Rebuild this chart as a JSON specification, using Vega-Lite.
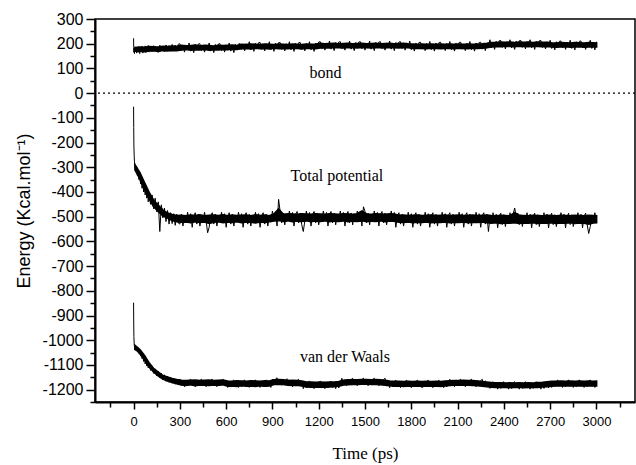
{
  "$schema": "https://vega.github.io/schema/vega-lite/v6.json",
  "width": 540,
  "height": 383,
  "autosize": {"type": "none"},
  "padding": {"left": 95, "top": 19, "right": 1, "bottom": 63},
  "background": "white",
  "config": {
    "locale": {"number": {"decimal": ".", "thousands": "", "grouping": [3], "currency": ["$", ""], "minus": "-"}},
    "view": {"stroke": "black", "strokeWidth": 1.5},
    "axis": {"grid": false, "domainColor": "black", "domainWidth": 2, "tickColor": "black", "tickWidth": 1.5, "labelColor": "black", "titleColor": "black", "titleFontWeight": "normal"}
  },
  "resolve": {"axis": {"x": "independent", "y": "independent"}},
  "datasets": {
    "band": [
      {"t":10,"b1":170,"b2":184,"p1":-310,"p2":-292,"v1":-1034,"v2":-1022},
      {"t":40,"b1":171,"b2":186,"p1":-345,"p2":-322,"v1":-1052,"v2":-1038},
      {"t":70,"b1":169,"b2":185,"p1":-388,"p2":-362,"v1":-1078,"v2":-1062},
      {"t":100,"b1":171,"b2":188,"p1":-425,"p2":-402,"v1":-1106,"v2":-1092},
      {"t":130,"b1":172,"b2":187,"p1":-458,"p2":-435,"v1":-1128,"v2":-1116},
      {"t":160,"b1":170,"b2":186,"p1":-478,"p2":-455,"v1":-1144,"v2":-1130},
      {"t":190,"b1":173,"b2":189,"p1":-496,"p2":-474,"v1":-1156,"v2":-1144},
      {"t":220,"b1":172,"b2":188,"p1":-505,"p2":-486,"v1":-1164,"v2":-1150},
      {"t":250,"b1":174,"b2":190,"p1":-515,"p2":-492,"v1":-1170,"v2":-1156},
      {"t":280,"b1":173,"b2":189,"p1":-520,"p2":-496,"v1":-1175,"v2":-1160},
      {"t":310,"b1":176,"b2":193,"p1":-522,"p2":-495,"v1":-1180,"v2":-1163},
      {"t":340,"b1":178,"b2":191,"p1":-521,"p2":-497,"v1":-1182,"v2":-1164},
      {"t":370,"b1":175,"b2":192,"p1":-524,"p2":-494,"v1":-1179,"v2":-1163},
      {"t":400,"b1":177,"b2":194,"p1":-520,"p2":-496,"v1":-1183,"v2":-1162},
      {"t":430,"b1":176,"b2":191,"p1":-523,"p2":-493,"v1":-1180,"v2":-1164},
      {"t":460,"b1":178,"b2":193,"p1":-521,"p2":-497,"v1":-1181,"v2":-1163},
      {"t":490,"b1":175,"b2":192,"p1":-526,"p2":-495,"v1":-1182,"v2":-1162},
      {"t":520,"b1":177,"b2":190,"p1":-522,"p2":-494,"v1":-1180,"v2":-1164},
      {"t":550,"b1":176,"b2":193,"p1":-520,"p2":-496,"v1":-1181,"v2":-1163},
      {"t":580,"b1":178,"b2":192,"p1":-524,"p2":-493,"v1":-1179,"v2":-1162},
      {"t":610,"b1":177,"b2":193,"p1":-521,"p2":-497,"v1":-1185,"v2":-1166},
      {"t":640,"b1":179,"b2":194,"p1":-523,"p2":-494,"v1":-1184,"v2":-1167},
      {"t":670,"b1":178,"b2":192,"p1":-520,"p2":-496,"v1":-1186,"v2":-1165},
      {"t":700,"b1":181,"b2":197,"p1":-524,"p2":-495,"v1":-1183,"v2":-1166},
      {"t":730,"b1":182,"b2":196,"p1":-521,"p2":-494,"v1":-1185,"v2":-1167},
      {"t":760,"b1":180,"b2":198,"p1":-522,"p2":-497,"v1":-1184,"v2":-1165},
      {"t":790,"b1":183,"b2":197,"p1":-525,"p2":-493,"v1":-1186,"v2":-1166},
      {"t":820,"b1":181,"b2":196,"p1":-521,"p2":-496,"v1":-1183,"v2":-1167},
      {"t":850,"b1":182,"b2":198,"p1":-523,"p2":-494,"v1":-1185,"v2":-1165},
      {"t":880,"b1":180,"b2":197,"p1":-520,"p2":-497,"v1":-1184,"v2":-1166},
      {"t":910,"b1":183,"b2":196,"p1":-517,"p2":-490,"v1":-1178,"v2":-1161},
      {"t":940,"b1":181,"b2":198,"p1":-515,"p2":-470,"v1":-1177,"v2":-1160},
      {"t":970,"b1":182,"b2":197,"p1":-518,"p2":-491,"v1":-1178,"v2":-1161},
      {"t":1000,"b1":181,"b2":196,"p1":-516,"p2":-489,"v1":-1181,"v2":-1164},
      {"t":1030,"b1":183,"b2":198,"p1":-519,"p2":-490,"v1":-1182,"v2":-1163},
      {"t":1060,"b1":182,"b2":197,"p1":-517,"p2":-491,"v1":-1181,"v2":-1164},
      {"t":1090,"b1":180,"b2":196,"p1":-518,"p2":-489,"v1":-1184,"v2":-1166},
      {"t":1120,"b1":183,"b2":198,"p1":-516,"p2":-490,"v1":-1188,"v2":-1170},
      {"t":1150,"b1":182,"b2":197,"p1":-519,"p2":-491,"v1":-1189,"v2":-1170},
      {"t":1180,"b1":181,"b2":198,"p1":-517,"p2":-489,"v1":-1188,"v2":-1171},
      {"t":1210,"b1":184,"b2":201,"p1":-518,"p2":-490,"v1":-1189,"v2":-1170},
      {"t":1240,"b1":185,"b2":199,"p1":-516,"p2":-491,"v1":-1189,"v2":-1171},
      {"t":1270,"b1":184,"b2":200,"p1":-519,"p2":-489,"v1":-1188,"v2":-1170},
      {"t":1300,"b1":186,"b2":201,"p1":-517,"p2":-490,"v1":-1187,"v2":-1170},
      {"t":1330,"b1":185,"b2":199,"p1":-518,"p2":-491,"v1":-1185,"v2":-1168},
      {"t":1360,"b1":184,"b2":200,"p1":-516,"p2":-489,"v1":-1180,"v2":-1163},
      {"t":1390,"b1":186,"b2":201,"p1":-519,"p2":-490,"v1":-1179,"v2":-1161},
      {"t":1420,"b1":185,"b2":199,"p1":-517,"p2":-491,"v1":-1178,"v2":-1161},
      {"t":1450,"b1":184,"b2":200,"p1":-518,"p2":-489,"v1":-1178,"v2":-1161},
      {"t":1480,"b1":186,"b2":201,"p1":-516,"p2":-478,"v1":-1177,"v2":-1160},
      {"t":1510,"b1":185,"b2":199,"p1":-519,"p2":-490,"v1":-1177,"v2":-1160},
      {"t":1540,"b1":184,"b2":200,"p1":-517,"p2":-491,"v1":-1178,"v2":-1161},
      {"t":1570,"b1":186,"b2":201,"p1":-518,"p2":-489,"v1":-1178,"v2":-1160},
      {"t":1600,"b1":185,"b2":199,"p1":-516,"p2":-490,"v1":-1179,"v2":-1161},
      {"t":1630,"b1":184,"b2":200,"p1":-519,"p2":-491,"v1":-1181,"v2":-1163},
      {"t":1660,"b1":186,"b2":201,"p1":-517,"p2":-489,"v1":-1183,"v2":-1166},
      {"t":1690,"b1":185,"b2":199,"p1":-518,"p2":-490,"v1":-1185,"v2":-1167},
      {"t":1720,"b1":184,"b2":200,"p1":-522,"p2":-495,"v1":-1184,"v2":-1167},
      {"t":1750,"b1":186,"b2":201,"p1":-523,"p2":-494,"v1":-1186,"v2":-1168},
      {"t":1780,"b1":185,"b2":199,"p1":-521,"p2":-496,"v1":-1184,"v2":-1167},
      {"t":1810,"b1":182,"b2":198,"p1":-524,"p2":-495,"v1":-1185,"v2":-1168},
      {"t":1840,"b1":183,"b2":197,"p1":-522,"p2":-494,"v1":-1184,"v2":-1167},
      {"t":1870,"b1":182,"b2":198,"p1":-523,"p2":-496,"v1":-1186,"v2":-1168},
      {"t":1900,"b1":181,"b2":197,"p1":-521,"p2":-495,"v1":-1184,"v2":-1167},
      {"t":1930,"b1":183,"b2":198,"p1":-524,"p2":-494,"v1":-1185,"v2":-1168},
      {"t":1960,"b1":182,"b2":197,"p1":-522,"p2":-496,"v1":-1184,"v2":-1167},
      {"t":1990,"b1":181,"b2":198,"p1":-523,"p2":-495,"v1":-1186,"v2":-1168},
      {"t":2020,"b1":183,"b2":197,"p1":-521,"p2":-494,"v1":-1184,"v2":-1166},
      {"t":2050,"b1":182,"b2":198,"p1":-524,"p2":-496,"v1":-1182,"v2":-1165},
      {"t":2080,"b1":181,"b2":197,"p1":-522,"p2":-495,"v1":-1181,"v2":-1164},
      {"t":2110,"b1":183,"b2":198,"p1":-523,"p2":-494,"v1":-1181,"v2":-1164},
      {"t":2140,"b1":182,"b2":197,"p1":-521,"p2":-496,"v1":-1181,"v2":-1163},
      {"t":2170,"b1":181,"b2":198,"p1":-524,"p2":-495,"v1":-1181,"v2":-1164},
      {"t":2200,"b1":183,"b2":197,"p1":-522,"p2":-494,"v1":-1182,"v2":-1164},
      {"t":2230,"b1":182,"b2":198,"p1":-523,"p2":-496,"v1":-1183,"v2":-1166},
      {"t":2260,"b1":183,"b2":199,"p1":-521,"p2":-495,"v1":-1185,"v2":-1168},
      {"t":2290,"b1":185,"b2":201,"p1":-524,"p2":-494,"v1":-1187,"v2":-1170},
      {"t":2320,"b1":188,"b2":204,"p1":-526,"p2":-496,"v1":-1189,"v2":-1172},
      {"t":2350,"b1":190,"b2":204,"p1":-524,"p2":-497,"v1":-1190,"v2":-1173},
      {"t":2380,"b1":189,"b2":206,"p1":-527,"p2":-495,"v1":-1190,"v2":-1173},
      {"t":2410,"b1":191,"b2":205,"p1":-525,"p2":-496,"v1":-1189,"v2":-1174},
      {"t":2440,"b1":190,"b2":206,"p1":-526,"p2":-497,"v1":-1191,"v2":-1173},
      {"t":2470,"b1":189,"b2":204,"p1":-524,"p2":-485,"v1":-1190,"v2":-1174},
      {"t":2500,"b1":191,"b2":206,"p1":-527,"p2":-495,"v1":-1189,"v2":-1173},
      {"t":2530,"b1":190,"b2":205,"p1":-525,"p2":-496,"v1":-1191,"v2":-1174},
      {"t":2560,"b1":189,"b2":206,"p1":-526,"p2":-497,"v1":-1190,"v2":-1173},
      {"t":2590,"b1":191,"b2":204,"p1":-524,"p2":-495,"v1":-1189,"v2":-1174},
      {"t":2620,"b1":190,"b2":206,"p1":-527,"p2":-496,"v1":-1190,"v2":-1172},
      {"t":2650,"b1":189,"b2":205,"p1":-525,"p2":-497,"v1":-1188,"v2":-1171},
      {"t":2680,"b1":190,"b2":205,"p1":-526,"p2":-495,"v1":-1187,"v2":-1169},
      {"t":2710,"b1":188,"b2":203,"p1":-524,"p2":-496,"v1":-1185,"v2":-1167},
      {"t":2740,"b1":187,"b2":202,"p1":-527,"p2":-497,"v1":-1183,"v2":-1167},
      {"t":2770,"b1":188,"b2":204,"p1":-525,"p2":-495,"v1":-1184,"v2":-1166},
      {"t":2800,"b1":189,"b2":203,"p1":-526,"p2":-496,"v1":-1183,"v2":-1167},
      {"t":2830,"b1":187,"b2":202,"p1":-524,"p2":-497,"v1":-1184,"v2":-1166},
      {"t":2860,"b1":188,"b2":204,"p1":-527,"p2":-495,"v1":-1183,"v2":-1167},
      {"t":2890,"b1":189,"b2":203,"p1":-525,"p2":-496,"v1":-1184,"v2":-1166},
      {"t":2920,"b1":187,"b2":202,"p1":-526,"p2":-497,"v1":-1183,"v2":-1167},
      {"t":2950,"b1":188,"b2":204,"p1":-530,"p2":-495,"v1":-1184,"v2":-1166},
      {"t":2980,"b1":189,"b2":203,"p1":-525,"p2":-496,"v1":-1183,"v2":-1167},
      {"t":3000,"b1":188,"b2":202,"p1":-524,"p2":-497,"v1":-1184,"v2":-1166}
    ],
    "series": [
      {"t":0,"b":222,"p":-55,"v":-848},
      {"t":1,"b":185,"p":-140,"v":-930},
      {"t":2,"b":165,"p":-210,"v":-985},
      {"t":4,"b":183,"p":-255,"v":-1015},
      {"t":6,"b":160,"p":-278,"v":-1028},
      {"t":8,"b":178,"p":-290,"v":-1040},
      {"t":10,"b":167,"p":-300,"v":-1024},
      {"t":15,"b":186,"p":-318,"v":-1042},
      {"t":20,"b":162,"p":-298,"v":-1028},
      {"t":25,"b":180,"p":-335,"v":-1048},
      {"t":30,"b":165,"p":-312,"v":-1030},
      {"t":35,"b":188,"p":-350,"v":-1054},
      {"t":40,"b":160,"p":-322,"v":-1038},
      {"t":45,"b":182,"p":-368,"v":-1064},
      {"t":50,"b":166,"p":-338,"v":-1046},
      {"t":55,"b":190,"p":-385,"v":-1074},
      {"t":60,"b":162,"p":-352,"v":-1058},
      {"t":65,"b":185,"p":-400,"v":-1086},
      {"t":70,"b":167,"p":-362,"v":-1066},
      {"t":75,"b":191,"p":-412,"v":-1096},
      {"t":80,"b":164,"p":-375,"v":-1078},
      {"t":85,"b":187,"p":-425,"v":-1104},
      {"t":90,"b":170,"p":-390,"v":-1088},
      {"t":95,"b":193,"p":-440,"v":-1112},
      {"t":100,"b":166,"p":-402,"v":-1096},
      {"t":110,"b":189,"p":-450,"v":-1122},
      {"t":120,"b":168,"p":-412,"v":-1106},
      {"t":130,"b":192,"p":-468,"v":-1134},
      {"t":140,"b":170,"p":-425,"v":-1116},
      {"t":150,"b":186,"p":-480,"v":-1144},
      {"t":160,"b":165,"p":-440,"v":-1126},
      {"t":170,"b":194,"p":-560,"v":-1152},
      {"t":180,"b":172,"p":-452,"v":-1134},
      {"t":190,"b":190,"p":-505,"v":-1160},
      {"t":200,"b":168,"p":-465,"v":-1140},
      {"t":210,"b":195,"p":-520,"v":-1166},
      {"t":220,"b":173,"p":-475,"v":-1146},
      {"t":230,"b":192,"p":-530,"v":-1170},
      {"t":240,"b":170,"p":-484,"v":-1152},
      {"t":250,"b":197,"p":-528,"v":-1174},
      {"t":260,"b":174,"p":-488,"v":-1156},
      {"t":270,"b":194,"p":-535,"v":-1178},
      {"t":280,"b":171,"p":-490,"v":-1158},
      {"t":290,"b":198,"p":-526,"v":-1180},
      {"t":300,"b":200,"p":-530,"v":-1158},
      {"t":310,"b":172,"p":-490,"v":-1183},
      {"t":320,"b":191,"p":-538,"v":-1164},
      {"t":330,"b":166,"p":-499,"v":-1188},
      {"t":340,"b":195,"p":-522,"v":-1163},
      {"t":350,"b":179,"p":-482,"v":-1185},
      {"t":360,"b":203,"p":-516,"v":-1163},
      {"t":370,"b":170,"p":-488,"v":-1158},
      {"t":380,"b":187,"p":-543,"v":-1183},
      {"t":390,"b":164,"p":-496,"v":-1164},
      {"t":400,"b":197,"p":-484,"v":-1188},
      {"t":410,"b":176,"p":-530,"v":-1163},
      {"t":420,"b":199,"p":-490,"v":-1185},
      {"t":430,"b":200,"p":-538,"v":-1163},
      {"t":440,"b":172,"p":-499,"v":-1158},
      {"t":450,"b":191,"p":-522,"v":-1183},
      {"t":460,"b":166,"p":-482,"v":-1164},
      {"t":470,"b":195,"p":-516,"v":-1188},
      {"t":480,"b":179,"p":-565,"v":-1163},
      {"t":490,"b":203,"p":-543,"v":-1185},
      {"t":500,"b":170,"p":-496,"v":-1163},
      {"t":510,"b":187,"p":-484,"v":-1158},
      {"t":520,"b":164,"p":-530,"v":-1183},
      {"t":530,"b":197,"p":-490,"v":-1164},
      {"t":540,"b":176,"p":-538,"v":-1188},
      {"t":550,"b":199,"p":-499,"v":-1163},
      {"t":560,"b":200,"p":-522,"v":-1185},
      {"t":570,"b":172,"p":-482,"v":-1163},
      {"t":580,"b":191,"p":-516,"v":-1158},
      {"t":590,"b":166,"p":-488,"v":-1183},
      {"t":600,"b":195,"p":-543,"v":-1167},
      {"t":610,"b":179,"p":-496,"v":-1191},
      {"t":620,"b":203,"p":-484,"v":-1166},
      {"t":630,"b":170,"p":-530,"v":-1188},
      {"t":640,"b":187,"p":-490,"v":-1166},
      {"t":650,"b":164,"p":-538,"v":-1161},
      {"t":660,"b":197,"p":-499,"v":-1186},
      {"t":670,"b":176,"p":-522,"v":-1167},
      {"t":680,"b":199,"p":-482,"v":-1191},
      {"t":690,"b":200,"p":-516,"v":-1166},
      {"t":700,"b":177,"p":-488,"v":-1188},
      {"t":710,"b":196,"p":-543,"v":-1166},
      {"t":720,"b":171,"p":-496,"v":-1161},
      {"t":730,"b":200,"p":-484,"v":-1186},
      {"t":740,"b":184,"p":-530,"v":-1167},
      {"t":750,"b":208,"p":-490,"v":-1191},
      {"t":760,"b":175,"p":-538,"v":-1166},
      {"t":770,"b":192,"p":-499,"v":-1188},
      {"t":780,"b":169,"p":-522,"v":-1166},
      {"t":790,"b":202,"p":-482,"v":-1161},
      {"t":800,"b":181,"p":-516,"v":-1186},
      {"t":810,"b":204,"p":-488,"v":-1167},
      {"t":820,"b":205,"p":-543,"v":-1191},
      {"t":830,"b":177,"p":-496,"v":-1166},
      {"t":840,"b":196,"p":-484,"v":-1188},
      {"t":850,"b":171,"p":-530,"v":-1166},
      {"t":860,"b":200,"p":-490,"v":-1161},
      {"t":870,"b":184,"p":-538,"v":-1186},
      {"t":880,"b":208,"p":-499,"v":-1167},
      {"t":890,"b":175,"p":-522,"v":-1191},
      {"t":900,"b":192,"p":-477,"v":-1157},
      {"t":910,"b":169,"p":-511,"v":-1179},
      {"t":920,"b":202,"p":-483,"v":-1157},
      {"t":930,"b":181,"p":-538,"v":-1152},
      {"t":940,"b":204,"p":-430,"v":-1177},
      {"t":950,"b":205,"p":-479,"v":-1158},
      {"t":960,"b":177,"p":-525,"v":-1182},
      {"t":970,"b":196,"p":-485,"v":-1157},
      {"t":980,"b":171,"p":-533,"v":-1179},
      {"t":990,"b":200,"p":-494,"v":-1157},
      {"t":1000,"b":184,"p":-517,"v":-1158},
      {"t":1010,"b":208,"p":-477,"v":-1183},
      {"t":1020,"b":175,"p":-511,"v":-1164},
      {"t":1030,"b":192,"p":-483,"v":-1188},
      {"t":1040,"b":169,"p":-538,"v":-1163},
      {"t":1050,"b":202,"p":-491,"v":-1185},
      {"t":1060,"b":181,"p":-479,"v":-1163},
      {"t":1070,"b":204,"p":-525,"v":-1158},
      {"t":1080,"b":205,"p":-485,"v":-1183},
      {"t":1090,"b":177,"p":-533,"v":-1164},
      {"t":1100,"b":196,"p":-560,"v":-1196},
      {"t":1110,"b":171,"p":-517,"v":-1171},
      {"t":1120,"b":200,"p":-477,"v":-1193},
      {"t":1130,"b":184,"p":-511,"v":-1171},
      {"t":1140,"b":208,"p":-483,"v":-1166},
      {"t":1150,"b":175,"p":-538,"v":-1191},
      {"t":1160,"b":192,"p":-491,"v":-1172},
      {"t":1170,"b":169,"p":-479,"v":-1196},
      {"t":1180,"b":202,"p":-525,"v":-1171},
      {"t":1190,"b":181,"p":-485,"v":-1193},
      {"t":1200,"b":207,"p":-533,"v":-1171},
      {"t":1210,"b":208,"p":-494,"v":-1166},
      {"t":1220,"b":180,"p":-517,"v":-1191},
      {"t":1230,"b":199,"p":-477,"v":-1172},
      {"t":1240,"b":174,"p":-511,"v":-1196},
      {"t":1250,"b":203,"p":-483,"v":-1171},
      {"t":1260,"b":187,"p":-538,"v":-1193},
      {"t":1270,"b":211,"p":-491,"v":-1171},
      {"t":1280,"b":178,"p":-479,"v":-1166},
      {"t":1290,"b":195,"p":-525,"v":-1191},
      {"t":1300,"b":172,"p":-485,"v":-1172},
      {"t":1310,"b":205,"p":-533,"v":-1196},
      {"t":1320,"b":184,"p":-494,"v":-1171},
      {"t":1330,"b":207,"p":-517,"v":-1193},
      {"t":1340,"b":208,"p":-477,"v":-1171},
      {"t":1350,"b":180,"p":-511,"v":-1154},
      {"t":1360,"b":199,"p":-483,"v":-1179},
      {"t":1370,"b":174,"p":-538,"v":-1160},
      {"t":1380,"b":203,"p":-491,"v":-1184},
      {"t":1390,"b":187,"p":-479,"v":-1159},
      {"t":1400,"b":211,"p":-525,"v":-1181},
      {"t":1410,"b":178,"p":-485,"v":-1159},
      {"t":1420,"b":195,"p":-533,"v":-1154},
      {"t":1430,"b":172,"p":-494,"v":-1179},
      {"t":1440,"b":205,"p":-517,"v":-1160},
      {"t":1450,"b":184,"p":-477,"v":-1184},
      {"t":1460,"b":207,"p":-511,"v":-1159},
      {"t":1470,"b":208,"p":-483,"v":-1181},
      {"t":1480,"b":180,"p":-538,"v":-1159},
      {"t":1490,"b":199,"p":-460,"v":-1154},
      {"t":1500,"b":174,"p":-479,"v":-1179},
      {"t":1510,"b":203,"p":-525,"v":-1160},
      {"t":1520,"b":187,"p":-485,"v":-1184},
      {"t":1530,"b":211,"p":-533,"v":-1159},
      {"t":1540,"b":178,"p":-494,"v":-1181},
      {"t":1550,"b":195,"p":-517,"v":-1159},
      {"t":1560,"b":172,"p":-477,"v":-1154},
      {"t":1570,"b":205,"p":-511,"v":-1179},
      {"t":1580,"b":184,"p":-483,"v":-1160},
      {"t":1590,"b":207,"p":-538,"v":-1184},
      {"t":1600,"b":208,"p":-491,"v":-1159},
      {"t":1610,"b":180,"p":-479,"v":-1181},
      {"t":1620,"b":199,"p":-525,"v":-1159},
      {"t":1630,"b":174,"p":-485,"v":-1154},
      {"t":1640,"b":203,"p":-533,"v":-1179},
      {"t":1650,"b":187,"p":-494,"v":-1168},
      {"t":1660,"b":211,"p":-517,"v":-1192},
      {"t":1670,"b":178,"p":-477,"v":-1167},
      {"t":1680,"b":195,"p":-511,"v":-1189},
      {"t":1690,"b":172,"p":-483,"v":-1167},
      {"t":1700,"b":205,"p":-543,"v":-1162},
      {"t":1710,"b":184,"p":-496,"v":-1187},
      {"t":1720,"b":207,"p":-484,"v":-1168},
      {"t":1730,"b":208,"p":-530,"v":-1192},
      {"t":1740,"b":180,"p":-490,"v":-1167},
      {"t":1750,"b":199,"p":-538,"v":-1189},
      {"t":1760,"b":174,"p":-499,"v":-1167},
      {"t":1770,"b":203,"p":-522,"v":-1162},
      {"t":1780,"b":187,"p":-482,"v":-1187},
      {"t":1790,"b":211,"p":-516,"v":-1168},
      {"t":1800,"b":176,"p":-488,"v":-1192},
      {"t":1810,"b":193,"p":-543,"v":-1167},
      {"t":1820,"b":170,"p":-496,"v":-1189},
      {"t":1830,"b":203,"p":-484,"v":-1167},
      {"t":1840,"b":182,"p":-530,"v":-1162},
      {"t":1850,"b":205,"p":-490,"v":-1187},
      {"t":1860,"b":206,"p":-538,"v":-1168},
      {"t":1870,"b":178,"p":-499,"v":-1192},
      {"t":1880,"b":197,"p":-522,"v":-1167},
      {"t":1890,"b":172,"p":-482,"v":-1189},
      {"t":1900,"b":201,"p":-516,"v":-1167},
      {"t":1910,"b":185,"p":-488,"v":-1162},
      {"t":1920,"b":209,"p":-543,"v":-1187},
      {"t":1930,"b":176,"p":-496,"v":-1168},
      {"t":1940,"b":193,"p":-484,"v":-1192},
      {"t":1950,"b":170,"p":-530,"v":-1167},
      {"t":1960,"b":203,"p":-490,"v":-1189},
      {"t":1970,"b":182,"p":-538,"v":-1167},
      {"t":1980,"b":205,"p":-499,"v":-1162},
      {"t":1990,"b":206,"p":-522,"v":-1187},
      {"t":2000,"b":178,"p":-482,"v":-1168},
      {"t":2010,"b":197,"p":-516,"v":-1192},
      {"t":2020,"b":172,"p":-488,"v":-1167},
      {"t":2030,"b":201,"p":-543,"v":-1189},
      {"t":2040,"b":185,"p":-496,"v":-1167},
      {"t":2050,"b":209,"p":-484,"v":-1158},
      {"t":2060,"b":176,"p":-530,"v":-1183},
      {"t":2070,"b":193,"p":-490,"v":-1164},
      {"t":2080,"b":170,"p":-538,"v":-1188},
      {"t":2090,"b":203,"p":-499,"v":-1163},
      {"t":2100,"b":182,"p":-522,"v":-1185},
      {"t":2110,"b":205,"p":-482,"v":-1163},
      {"t":2120,"b":206,"p":-516,"v":-1158},
      {"t":2130,"b":178,"p":-488,"v":-1183},
      {"t":2140,"b":197,"p":-543,"v":-1164},
      {"t":2150,"b":172,"p":-496,"v":-1188},
      {"t":2160,"b":201,"p":-484,"v":-1163},
      {"t":2170,"b":185,"p":-530,"v":-1185},
      {"t":2180,"b":209,"p":-490,"v":-1163},
      {"t":2190,"b":176,"p":-538,"v":-1158},
      {"t":2200,"b":193,"p":-499,"v":-1183},
      {"t":2210,"b":170,"p":-522,"v":-1164},
      {"t":2220,"b":203,"p":-482,"v":-1188},
      {"t":2230,"b":182,"p":-516,"v":-1163},
      {"t":2240,"b":205,"p":-488,"v":-1185},
      {"t":2250,"b":206,"p":-543,"v":-1163},
      {"t":2260,"b":178,"p":-496,"v":-1158},
      {"t":2270,"b":197,"p":-484,"v":-1183},
      {"t":2280,"b":172,"p":-530,"v":-1164},
      {"t":2290,"b":201,"p":-490,"v":-1188},
      {"t":2300,"b":192,"p":-560,"v":-1173},
      {"t":2310,"b":216,"p":-501,"v":-1195},
      {"t":2320,"b":183,"p":-524,"v":-1173},
      {"t":2330,"b":200,"p":-484,"v":-1168},
      {"t":2340,"b":177,"p":-518,"v":-1193},
      {"t":2350,"b":210,"p":-490,"v":-1174},
      {"t":2360,"b":189,"p":-545,"v":-1198},
      {"t":2370,"b":212,"p":-498,"v":-1173},
      {"t":2380,"b":213,"p":-486,"v":-1195},
      {"t":2390,"b":185,"p":-532,"v":-1173},
      {"t":2400,"b":204,"p":-492,"v":-1168},
      {"t":2410,"b":179,"p":-540,"v":-1193},
      {"t":2420,"b":208,"p":-501,"v":-1174},
      {"t":2430,"b":192,"p":-524,"v":-1198},
      {"t":2440,"b":216,"p":-484,"v":-1173},
      {"t":2450,"b":183,"p":-518,"v":-1195},
      {"t":2460,"b":200,"p":-490,"v":-1173},
      {"t":2470,"b":177,"p":-465,"v":-1168},
      {"t":2480,"b":210,"p":-498,"v":-1193},
      {"t":2490,"b":189,"p":-486,"v":-1174},
      {"t":2500,"b":212,"p":-532,"v":-1198},
      {"t":2510,"b":213,"p":-492,"v":-1173},
      {"t":2520,"b":185,"p":-540,"v":-1195},
      {"t":2530,"b":204,"p":-501,"v":-1173},
      {"t":2540,"b":179,"p":-524,"v":-1168},
      {"t":2550,"b":208,"p":-484,"v":-1193},
      {"t":2560,"b":192,"p":-518,"v":-1174},
      {"t":2570,"b":216,"p":-490,"v":-1198},
      {"t":2580,"b":183,"p":-545,"v":-1173},
      {"t":2590,"b":200,"p":-498,"v":-1195},
      {"t":2600,"b":177,"p":-486,"v":-1173},
      {"t":2610,"b":210,"p":-532,"v":-1168},
      {"t":2620,"b":189,"p":-492,"v":-1193},
      {"t":2630,"b":212,"p":-540,"v":-1174},
      {"t":2640,"b":213,"p":-501,"v":-1198},
      {"t":2650,"b":185,"p":-524,"v":-1173},
      {"t":2660,"b":204,"p":-484,"v":-1195},
      {"t":2670,"b":179,"p":-518,"v":-1173},
      {"t":2680,"b":208,"p":-490,"v":-1168},
      {"t":2690,"b":192,"p":-545,"v":-1193},
      {"t":2700,"b":214,"p":-498,"v":-1167},
      {"t":2710,"b":181,"p":-486,"v":-1191},
      {"t":2720,"b":198,"p":-532,"v":-1166},
      {"t":2730,"b":175,"p":-492,"v":-1188},
      {"t":2740,"b":208,"p":-540,"v":-1166},
      {"t":2750,"b":187,"p":-501,"v":-1161},
      {"t":2760,"b":210,"p":-524,"v":-1186},
      {"t":2770,"b":211,"p":-484,"v":-1167},
      {"t":2780,"b":183,"p":-518,"v":-1191},
      {"t":2790,"b":202,"p":-490,"v":-1166},
      {"t":2800,"b":177,"p":-545,"v":-1188},
      {"t":2810,"b":206,"p":-498,"v":-1166},
      {"t":2820,"b":190,"p":-486,"v":-1161},
      {"t":2830,"b":214,"p":-532,"v":-1186},
      {"t":2840,"b":181,"p":-492,"v":-1167},
      {"t":2850,"b":198,"p":-540,"v":-1191},
      {"t":2860,"b":175,"p":-501,"v":-1166},
      {"t":2870,"b":208,"p":-524,"v":-1188},
      {"t":2880,"b":187,"p":-484,"v":-1166},
      {"t":2890,"b":210,"p":-518,"v":-1161},
      {"t":2900,"b":211,"p":-490,"v":-1186},
      {"t":2910,"b":183,"p":-545,"v":-1167},
      {"t":2920,"b":202,"p":-498,"v":-1191},
      {"t":2930,"b":177,"p":-486,"v":-1166},
      {"t":2940,"b":206,"p":-532,"v":-1188},
      {"t":2950,"b":190,"p":-568,"v":-1166},
      {"t":2960,"b":214,"p":-540,"v":-1161},
      {"t":2970,"b":181,"p":-501,"v":-1186},
      {"t":2980,"b":198,"p":-524,"v":-1167},
      {"t":2990,"b":175,"p":-484,"v":-1191},
      {"t":3000,"b":208,"p":-518,"v":-1166}
    ]
  },
  "layer": [
    {
      "data": {"values": [{}]},
      "mark": {"type": "rule", "strokeDash": [2, 3], "color": "black", "strokeWidth": 1.2},
      "encoding": {"y": {"datum": 0, "axis": null}}
    },
    {
      "data": {"name": "band"},
      "mark": {"type": "area", "color": "black", "stroke": "black", "strokeWidth": 2, "opacity": 1},
      "encoding": {
        "x": {"field": "t", "type": "quantitative", "axis": null},
        "y": {"field": "b1", "type": "quantitative", "axis": null},
        "y2": {"field": "b2"}
      }
    },
    {
      "data": {"name": "band"},
      "mark": {"type": "area", "color": "black", "stroke": "black", "strokeWidth": 2, "opacity": 1},
      "encoding": {
        "x": {"field": "t", "type": "quantitative", "axis": null},
        "y": {"field": "p1", "type": "quantitative", "axis": null},
        "y2": {"field": "p2"}
      }
    },
    {
      "data": {"name": "band"},
      "mark": {"type": "area", "color": "black", "stroke": "black", "strokeWidth": 2, "opacity": 1},
      "encoding": {
        "x": {"field": "t", "type": "quantitative", "axis": null},
        "y": {"field": "v1", "type": "quantitative", "axis": null},
        "y2": {"field": "v2"}
      }
    },
    {
      "data": {"name": "series"},
      "transform": [{"fold": ["b", "p", "v"], "as": ["s", "e"]}],
      "mark": {"type": "line", "color": "black", "strokeWidth": 1},
      "encoding": {
        "x": {
          "field": "t", "type": "quantitative",
          "scale": {"domain": [-250, 3250], "nice": false, "zero": false},
          "axis": {
            "orient": "bottom",
            "title": "Time (ps)",
            "titleFont": "Liberation Serif", "titleFontSize": 17, "titlePadding": 17,
            "values": [0,300,600,900,1200,1500,1800,2100,2400,2700,3000],
            "labelFont": "Liberation Sans", "labelFontSize": 13, "labelPadding": 6,
            "tickSize": 7, "labelFlush": false, "labelOverlap": false
          }
        },
        "y": {
          "field": "e", "type": "quantitative",
          "scale": {"domain": [-1250, 300], "nice": false, "zero": false},
          "axis": {
            "orient": "left",
            "title": "Energy (Kcal.mol⁻¹)",
            "titleFont": "Liberation Sans", "titleFontSize": 18, "titlePadding": 9,
            "values": [-1200,-1100,-1000,-900,-800,-700,-600,-500,-400,-300,-200,-100,0,100,200,300],
            "labelFont": "Liberation Sans", "labelFontSize": 16, "labelPadding": 3,
            "tickSize": 9, "labelFlush": false, "labelOverlap": false
          }
        },
        "detail": {"field": "s"}
      }
    },
    {
      "data": {"values": [
        {"t": 1244, "e": 82, "label": "bond"},
        {"t": 1318, "e": -335, "label": "Total potential"},
        {"t": 1370, "e": -1067, "label": "van der Waals"}
      ]},
      "mark": {"type": "text", "font": "Liberation Serif", "fontSize": 16, "color": "black", "align": "center", "baseline": "middle"},
      "encoding": {
        "x": {
          "field": "t", "type": "quantitative",
          "axis": {
            "orient": "bottom", "title": null, "labels": false, "domain": false, "tickSize": 5,
            "values": [-150,150,450,750,1050,1350,1650,1950,2250,2550,2850,3150]
          }
        },
        "y": {
          "field": "e", "type": "quantitative",
          "axis": {
            "orient": "left", "title": null, "labels": false, "domain": false, "tickSize": 5,
            "values": [-1250,-1150,-1050,-950,-850,-750,-650,-550,-450,-350,-250,-150,-50,50,150,250]
          }
        },
        "text": {"field": "label"}
      }
    }
  ]
}
